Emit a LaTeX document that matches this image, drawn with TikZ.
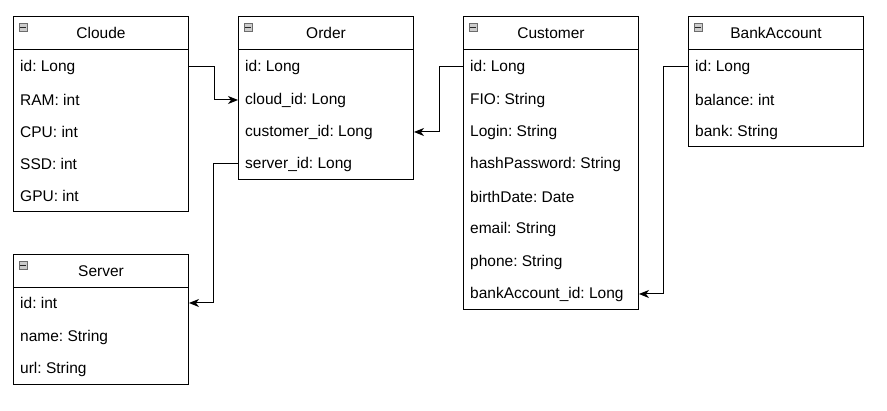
\documentclass[tikz,border=0pt]{standalone}
\usepackage{fontspec}
\setmainfont{Liberation Sans}
\usetikzlibrary{arrows.meta}
\frenchspacing
\begin{document}
\begin{tikzpicture}[x=1pt,y=-1pt,
  classhead/.style={draw=black,line width=1pt,fill=white,rectangle,anchor=north west,minimum width=175pt,minimum height=33pt,inner sep=0pt,font=\fontsize{15.5}{18}\selectfont},
  classbody/.style={draw=black,line width=1pt,fill=white,rectangle,anchor=north west,minimum width=175pt,inner sep=0pt},
  attr/.style={anchor=west,inner sep=0pt,yshift=-1pt,font=\fontsize{15.5}{18}\selectfont},
  iconbox/.style={draw=gray!85!black,fill=gray!40,line width=0.7pt,rectangle,minimum width=8pt,minimum height=8pt,inner sep=0pt,anchor=north west},
  iconbar/.style={line width=1pt,gray!30!black},
  link/.style={draw=black,line width=1pt,-{Stealth[length=10pt,width=8pt,inset=3pt]}}
]
\useasboundingbox (0,0) rectangle (887,411);
% ---------- Cloude
\node[classbody,minimum height=162pt] (clb) at (13,49) {};
\node[classhead] (clh) at (13,16) {Cloude};
\node[iconbox] (cli) at (19,23) {};
\draw[iconbar] ([xshift=1.3pt]cli.west) -- ([xshift=-1.3pt]cli.east);
\node[attr] (cl1) at (20,66) {id: Long};
\node[attr] (cl2) at (20,99) {RAM: int};
\node[attr] (cl3) at (20,131) {CPU: int};
\node[attr] (cl4) at (20,163) {SSD: int};
\node[attr] (cl5) at (20,195) {GPU: int};
% ---------- Order
\node[classbody,minimum height=130pt] (orb) at (238,49) {};
\node[classhead] (orh) at (238,16) {Order};
\node[iconbox] (ori) at (244,23) {};
\draw[iconbar] ([xshift=1.3pt]ori.west) -- ([xshift=-1.3pt]ori.east);
\node[attr] (or1) at (245,66) {id: Long};
\node[attr] (or2) at (245,99) {cloud\_id: Long};
\node[attr] (or3) at (245,131) {customer\_id: Long};
\node[attr] (or4) at (245,163) {server\_id: Long};
% ---------- Customer
\node[classbody,minimum height=260pt] (cub) at (463,49) {};
\node[classhead] (cuh) at (463,16) {Customer};
\node[iconbox] (cui) at (469,23) {};
\draw[iconbar] ([xshift=1.3pt]cui.west) -- ([xshift=-1.3pt]cui.east);
\node[attr] (cu1) at (470,66) {id: Long};
\node[attr] (cu2) at (470,99) {FIO: String};
\node[attr] (cu3) at (470,131) {Login: String};
\node[attr] (cu4) at (470,163) {hashPassword: String};
\node[attr] (cu5) at (470,196) {birthDate: Date};
\node[attr] (cu6) at (470,228) {email: String};
\node[attr] (cu7) at (470,261) {phone: String};
\node[attr] (cu8) at (470,293) {bankAccount\_id: Long};
% ---------- BankAccount
\node[classbody,minimum height=97pt] (bab) at (688,49) {};
\node[classhead] (bah) at (688,16) {BankAccount};
\node[iconbox] (bai) at (694,23) {};
\draw[iconbar] ([xshift=1.3pt]bai.west) -- ([xshift=-1.3pt]bai.east);
\node[attr] (ba1) at (695,66) {id: Long};
\node[attr] (ba2) at (695,99) {balance: int};
\node[attr] (ba3) at (695,131) {bank: String};
% ---------- Server
\node[classbody,minimum height=98pt] (seb) at (13,286) {};
\node[classhead] (seh) at (13,254) {Server};
\node[iconbox] (sei) at (19,261) {};
\draw[iconbar] ([xshift=1.3pt]sei.west) -- ([xshift=-1.3pt]sei.east);
\node[attr] (se1) at (20,302) {id: int};
\node[attr] (se2) at (20,336) {name: String};
\node[attr] (se3) at (20,368) {url: String};
% ---------- connectors
\draw[link] (clb.east |- cl1) -- ++(25,0) |- (orb.west |- or2);
\draw[link] (cub.west |- cu1) -- ++(-24,0) |- (orb.east |- or3);
\draw[link] (orb.west |- or4) -- ++(-25,0) |- (seb.east |- se1);
\draw[link] (bab.west |- ba1) -- ++(-25,0) |- (cub.east |- cu8);
\end{tikzpicture}
\end{document}
